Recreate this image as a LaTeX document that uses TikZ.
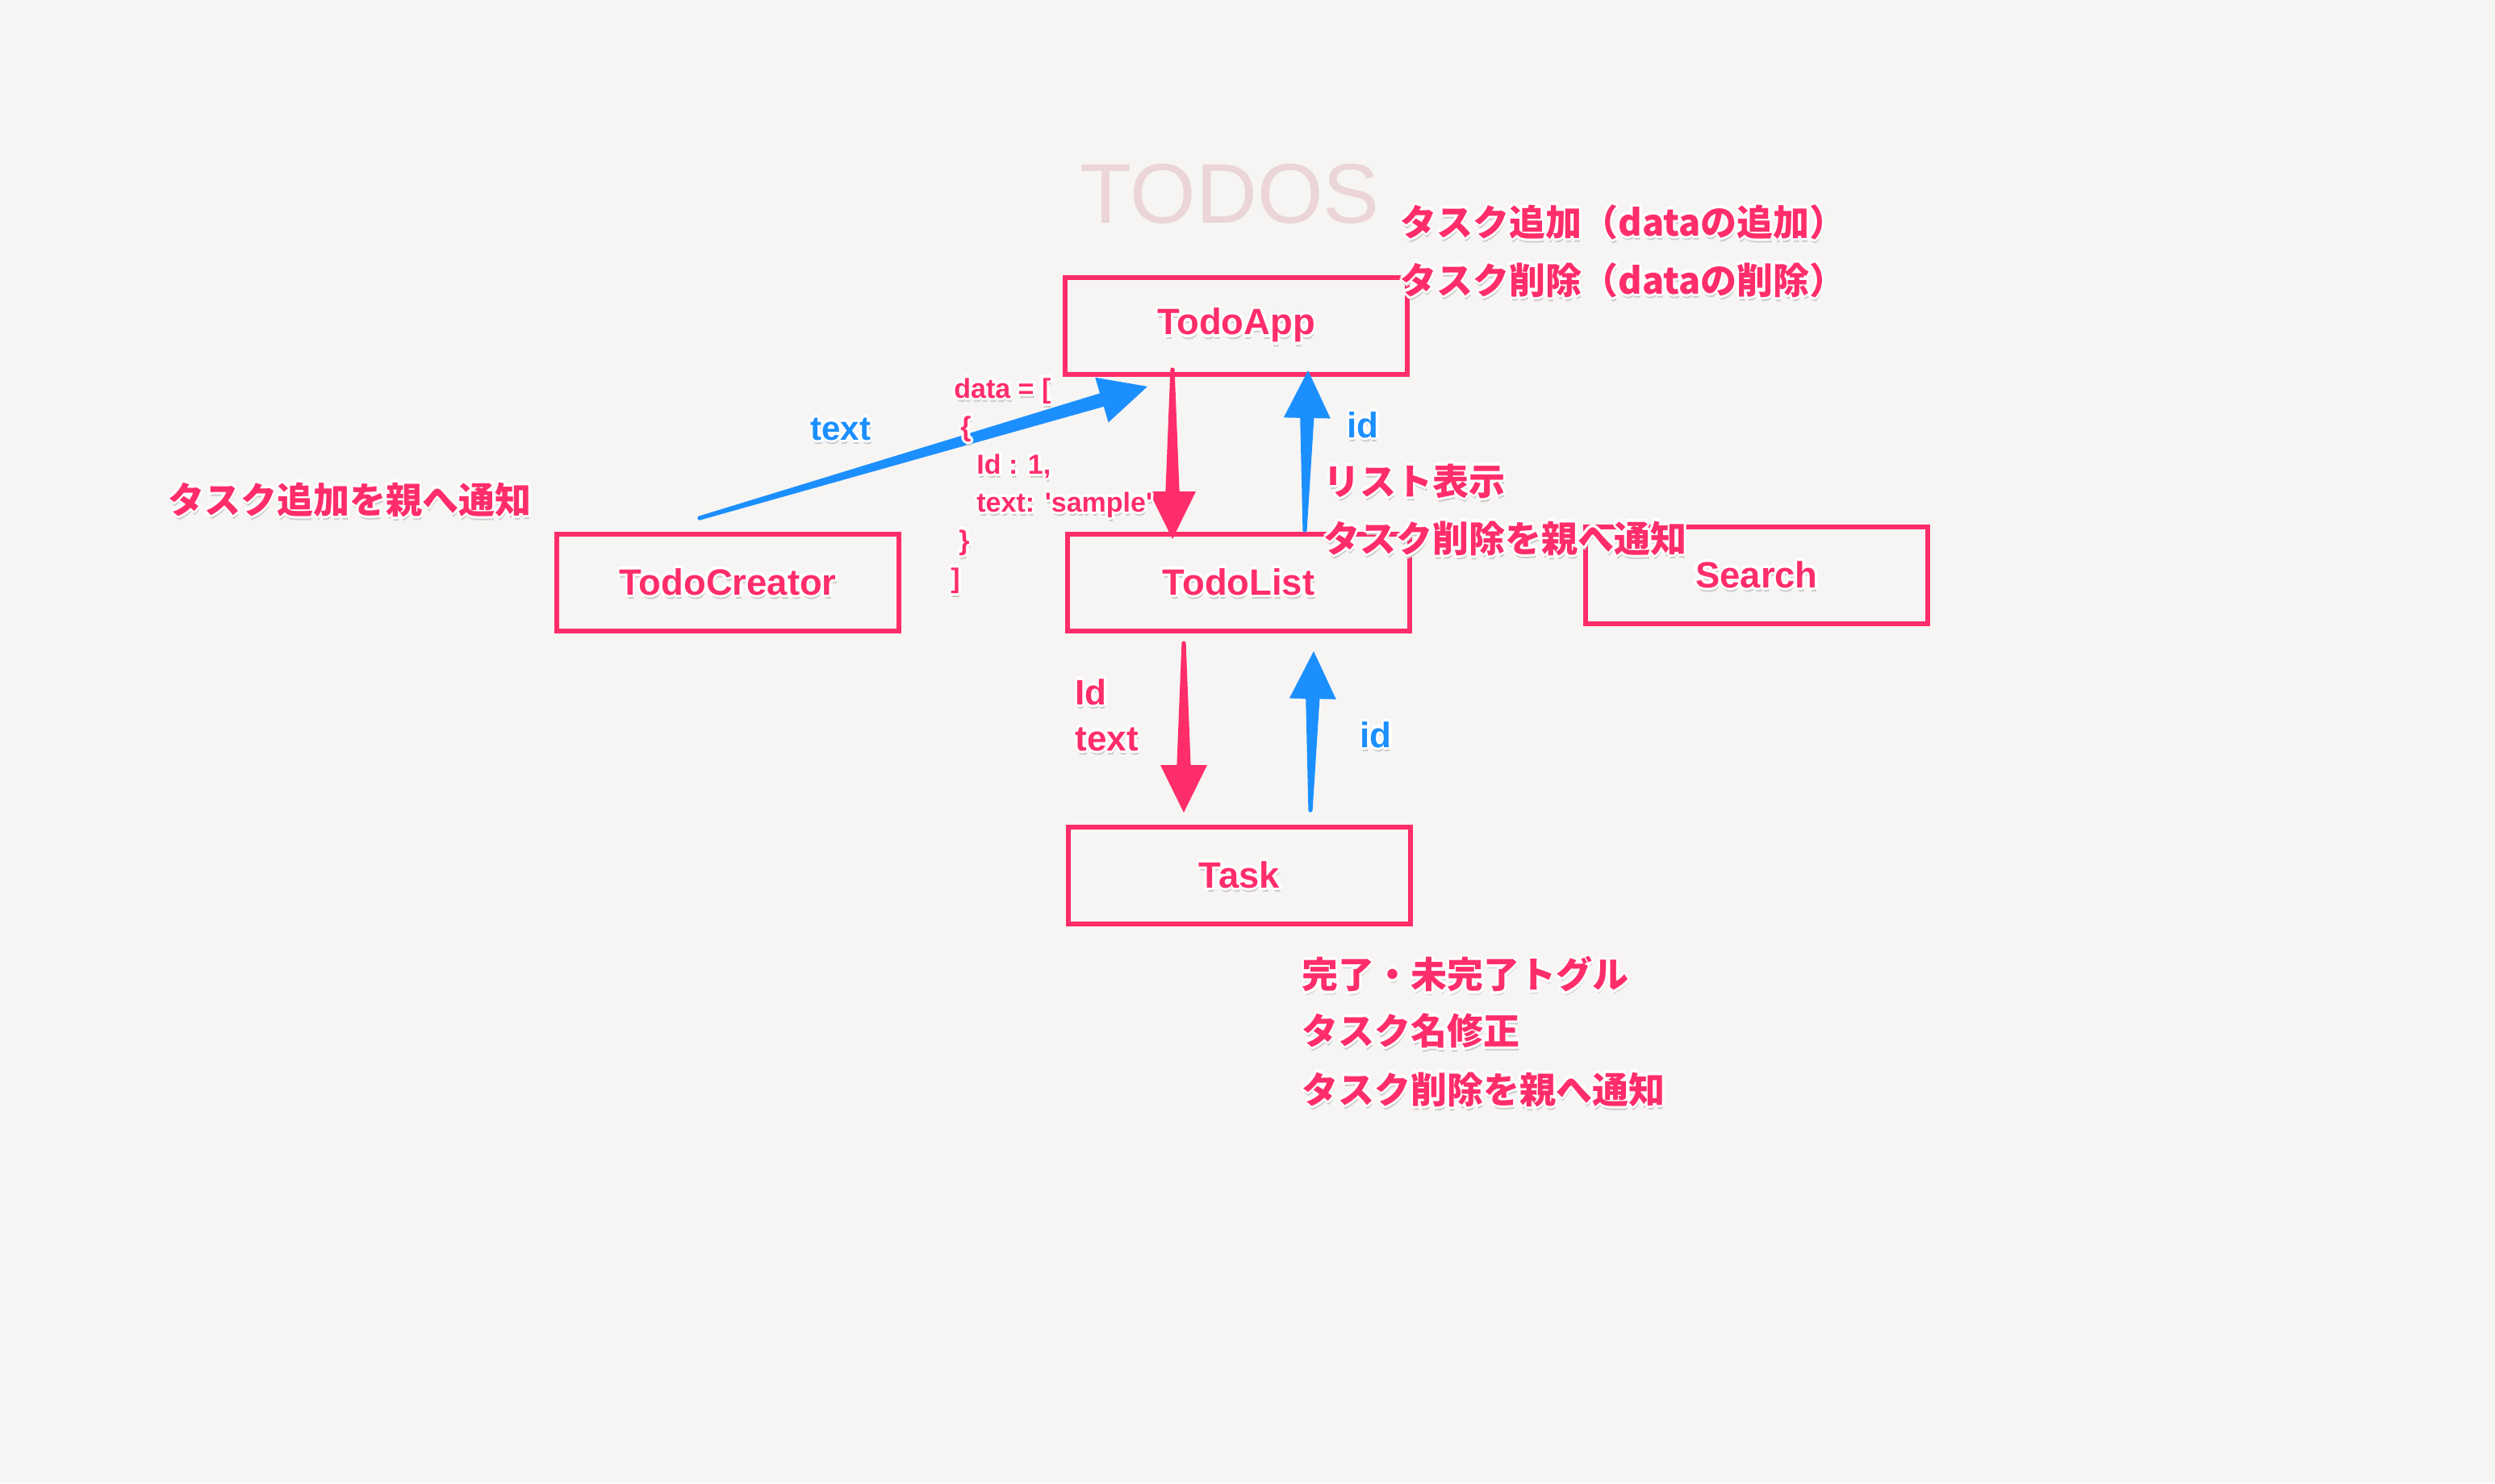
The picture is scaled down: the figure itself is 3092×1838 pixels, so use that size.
\documentclass[tikz,border=0pt]{standalone}
\usepackage{fontspec}
\setmainfont{Liberation Sans}
\newfontfamily\jp{Noto Sans CJK JP}
\usetikzlibrary{calc}
\definecolor{pinkc}{RGB}{255,45,106}
\definecolor{bluec}{RGB}{28,143,255}
\definecolor{titlec}{RGB}{235,213,215}
\definecolor{bgc}{RGB}{246,245,243}
\newcommand\halo[1]{\leavevmode
 \rlap{\color{black!20}\kern0.6pt\raisebox{-2.6pt}{#1}}%
 \rlap{\color{white}\kern1.7pt#1}%
 \rlap{\color{white}\kern-1.7pt#1}%
 \rlap{\color{white}\raisebox{1.7pt}{#1}}%
 \rlap{\color{white}\raisebox{-1.7pt}{#1}}%
 \rlap{\color{white}\kern1.2pt\raisebox{1.2pt}{#1}}%
 \rlap{\color{white}\kern-1.2pt\raisebox{1.2pt}{#1}}%
 \rlap{\color{white}\kern1.2pt\raisebox{-1.2pt}{#1}}%
 \rlap{\color{white}\kern-1.2pt\raisebox{-1.2pt}{#1}}%
 #1}
\newcommand\fatarrow[3]{%
 \path ($(#3)!29.5pt!(#2)$) coordinate (#3-base);
 \fill[#1] ($(#2)!1.3pt!90:(#3)$) -- ($(#3-base)!4.3pt!90:(#3)$) -- ($(#3-base)!14.5pt!90:(#3)$) -- (#3)
   -- ($(#3-base)!14.5pt!-90:(#3)$) -- ($(#3-base)!4.3pt!-90:(#3)$) -- ($(#2)!1.3pt!-90:(#3)$) -- cycle;
 \fill[#1] (#2) circle[radius=1.3pt];}
\tikzset{
 box/.style={draw=pinkc, line width=2.8pt, minimum width=212pt, minimum height=60pt, inner sep=0pt,
   text=pinkc, font=\bfseries\fontsize{22.7pt}{27pt}\selectfont},
 jpt/.style={anchor=west, inner sep=0pt, text=pinkc, font=\jp\bfseries\fontsize{22.5pt}{27pt}\selectfont},
 code/.style={anchor=base west, inner sep=0pt, text=pinkc, font=\bfseries\fontsize{17pt}{20pt}\selectfont},
 lbl/.style={anchor=base west, inner sep=0pt, font=\bfseries\fontsize{22pt}{26pt}\selectfont},
}
\begin{document}
\begin{tikzpicture}[x=0.5pt,y=-0.5pt]
\useasboundingbox (0,0) rectangle (3092,1838);
\fill[bgc] (0,0) rectangle (3092,1838);
% title
\node[inner sep=0pt, text=titlec, font=\fontsize{52.5pt}{60pt}\selectfont] (title) at (1524,240) {TODOS};
% boxes
\node[box] (app) at (1532,404) {\halo{TodoApp}};
\node[box] (list) at (1535,722) {\halo{TodoList}};
\node[box] (creator) at (902,722) {\halo{TodoCreator}};
\node[box] (search) at (2177,713) {\halo{Search}};
\node[box] (task) at (1536,1085) {\halo{Task}};
% arrow end points
\coordinate (dA) at (867,642);   \coordinate (dB) at (1422,479);
\coordinate (rA) at (1453,458);  \coordinate (rB) at (1453,668);
\coordinate (bA) at (1617,657);  \coordinate (bB) at (1621,459);
\coordinate (sA) at (1467,797);  \coordinate (sB) at (1467,1007);
\coordinate (tA) at (1624,1004); \coordinate (tB) at (1628,807);
\fatarrow{bluec}{dA}{dB}
\fatarrow{pinkc}{rA}{rB}
\fatarrow{bluec}{bA}{bB}
\fatarrow{pinkc}{sA}{sB}
\fatarrow{bluec}{tA}{tB}
% code block
\node[code] (c1) at (1182,493) {\halo{data = [}};
\node[code] (c2) at (1190,540) {\halo{\{}};
\node[code] (c3) at (1210,587) {\halo{Id : 1,}};
\node[code] (c4) at (1210,634) {\halo{text: \textquotesingle sample\textquotesingle}};
\node[code] (c5) at (1188,681) {\halo{\}}};
\node[code] (c6) at (1178,728) {\halo{]}};
% labels
\node[lbl, text=bluec, font=\bfseries\fontsize{21pt}{25pt}\selectfont] (ltext) at (1004,545) {\halo{text}};
\node[lbl, text=bluec] (lid1) at (1669,542) {\halo{id}};
\node[lbl, text=pinkc] (lId) at (1332,873) {\halo{Id}};
\node[lbl, text=pinkc] (ltext2) at (1332,930) {\halo{text}};
\node[lbl, text=bluec] (lid2) at (1685,926) {\halo{id}};
% japanese texts
\node[jpt] (j1) at (1735,276) {\halo{タスク追加（dataの追加）}};
\node[jpt] (j2) at (1735,348) {\halo{タスク削除（dataの削除）}};
\node[jpt] (j3) at (208,620) {\halo{タスク追加を親へ通知}};
\node[jpt] (j4) at (1640,597) {\halo{リスト表示}};
\node[jpt] (j5) at (1640,668) {\halo{タスク削除を親へ通知}};
\node[jpt] (j6) at (1613,1208) {\halo{完了・未完了トグル}};
\node[jpt] (j7) at (1613,1278) {\halo{タスク名修正}};
\node[jpt] (j8) at (1613,1351) {\halo{タスク削除を親へ通知}};
\end{tikzpicture}
\end{document}
